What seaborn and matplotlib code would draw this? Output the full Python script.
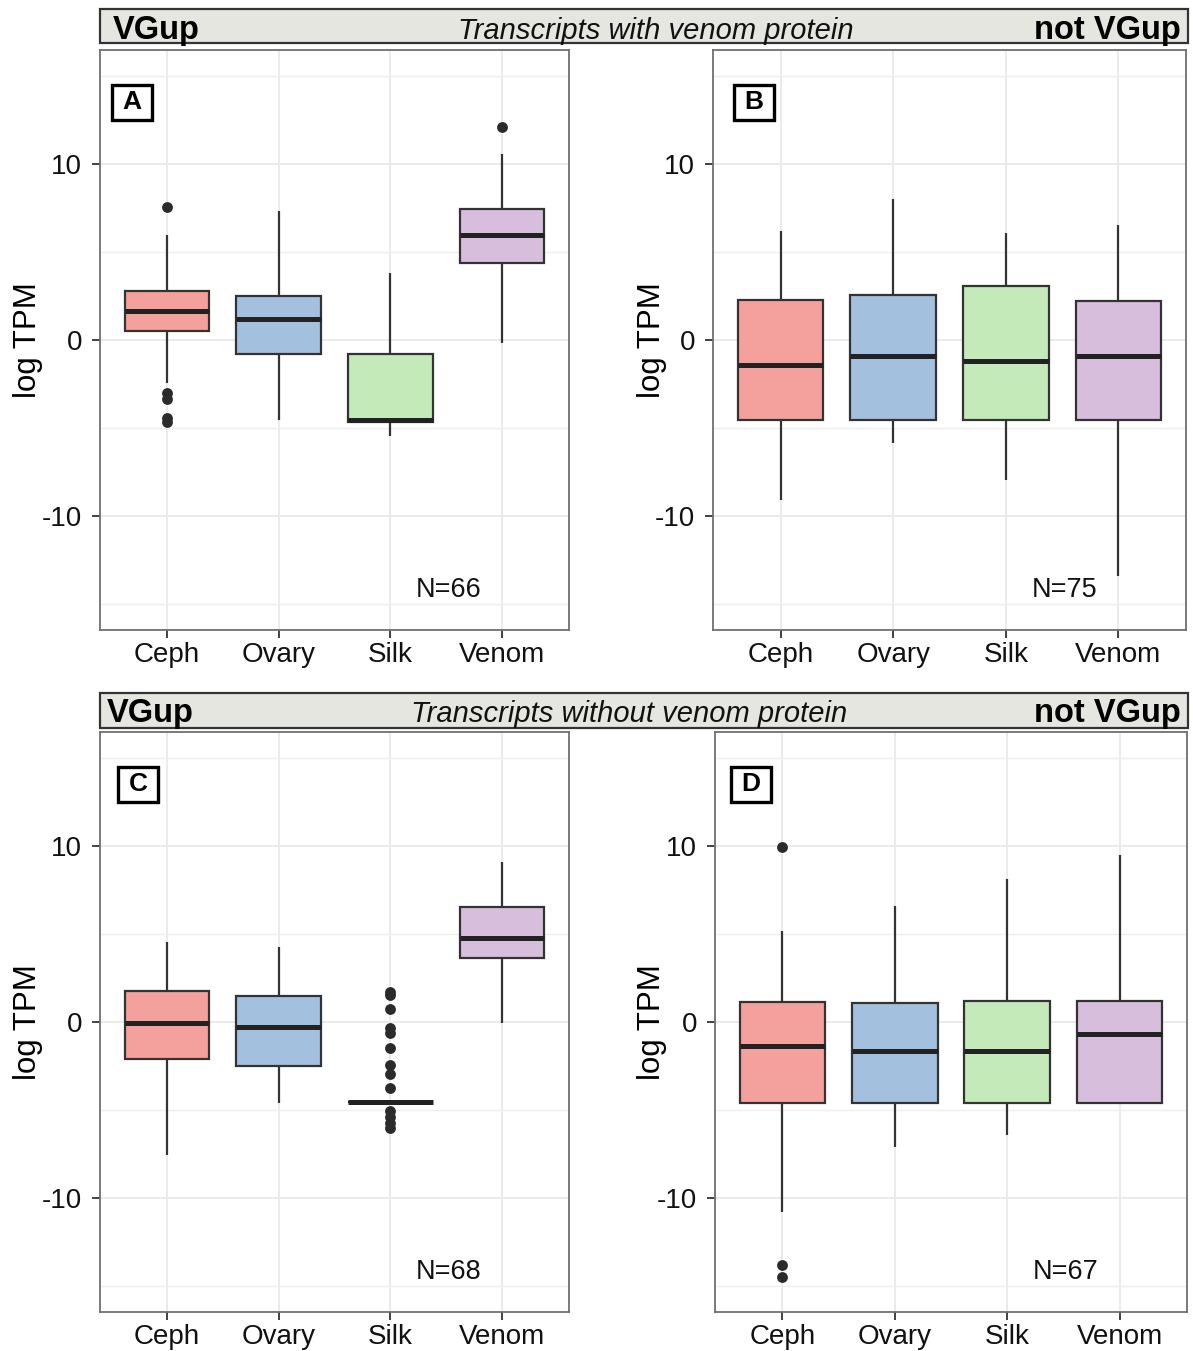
import matplotlib
matplotlib.use("Agg")
import matplotlib.pyplot as plt
from matplotlib.patches import Rectangle
import seaborn as sns
import pandas as pd

# ---------------- data ----------------
tissues = ["Ceph", "Ovary", "Silk", "Venom"]
colors = ["#F4A09C", "#A3C1DE", "#C4EABA", "#D7BEDD"]

# box summaries per tissue: [lower whisker, Q1, median, Q3, upper whisker]
box_A = [[-2.46, 0.53, 1.65, 2.78, 6.00],
         [-4.55, -0.80, 1.17, 2.50, 7.35],
         [-5.49, -4.64, -4.58, -0.80, 3.83],
         [-0.15, 4.39, 5.95, 7.48, 10.57]]
box_B = [[-9.13, -4.58, -1.42, 2.27, 6.21],
         [-5.87, -4.58, -0.91, 2.57, 8.01],
         [-7.95, -4.58, -1.19, 3.09, 6.06],
         [-13.40, -4.58, -0.91, 2.23, 6.57]]
box_C = [[-7.56, -2.12, -0.08, 1.78, 4.53],
         [-4.62, -2.48, -0.30, 1.48, 4.28],
         [-4.55, -4.55, -4.55, -4.55, -4.55],
         [-0.08, 3.65, 4.79, 6.55, 9.11]]
box_D = [[-10.83, -4.62, -1.35, 1.15, 5.19],
         [-7.12, -4.62, -1.65, 1.06, 6.61],
         [-6.42, -4.62, -1.65, 1.21, 8.16],
         [-4.62, -4.62, -0.68, 1.21, 9.53]]

# outliers: (tissue, value)
fliers_A = [("Ceph", 7.57), ("Ceph", -2.99), ("Ceph", -3.37), ("Ceph", -4.45),
            ("Ceph", -4.64), ("Venom", 12.12)]
fliers_B = []
fliers_C = [("Silk", 1.72), ("Silk", 1.53), ("Silk", 0.72), ("Silk", -0.36),
            ("Silk", -0.61), ("Silk", -1.46), ("Silk", -2.45), ("Silk", -2.95),
            ("Silk", -3.77), ("Silk", -5.09), ("Silk", -5.38), ("Silk", -5.76),
            ("Silk", -6.04)]
fliers_D = [("Ceph", 9.96), ("Ceph", -13.84), ("Ceph", -14.51)]

n_labels = ["N=66", "N=75", "N=68", "N=67"]
panel_letters = ["A", "B", "C", "D"]
y_ticks = [-10, 0, 10]
y_ticklabels = ["-10", "0", "10"]
y_minor = [-15, -5, 5, 15]

header_left = "VGup"
header_right = "not VGup"
header_mid = ["Transcripts with venom protein", "Transcripts without venom protein"]

# ---------------- style ----------------
sns.set_style("white")
plt.rcParams["font.family"] = ["Liberation Sans", "DejaVu Sans"]
plt.rcParams["axes.unicode_minus"] = False
plt.rcParams["text.color"] = "black"

W, H = 1193, 1351
fig = plt.figure(figsize=(W / 100, H / 100), dpi=100)


def fx(x):
    return x / W


def fy(y):
    return 1 - y / H


# axes rectangles in pixels: left, top, right, bottom
rects = [(100, 50, 569, 630), (713, 50, 1186, 630),
         (100, 732, 569, 1312), (715, 732, 1187, 1312)]
label_centers = [(0.068, 0.9095), (0.087, 0.9095), (0.081, 0.9095), (0.076, 0.9095)]
ylabel_x = [-0.121, -0.097, -0.121, -0.101]

boxes = [box_A, box_B, box_C, box_D]
fliers = [fliers_A, fliers_B, fliers_C, fliers_D]

for i, (l, t, r, b) in enumerate(rects):
    ax = fig.add_axes([fx(l), fy(b), (r - l) / W, (b - t) / H])
    rows = []
    for tis, vals in zip(tissues, boxes[i]):
        for v in vals:
            rows.append({"tissue": tis, "value": v})
    df = pd.DataFrame(rows)
    sns.boxplot(data=df, x="tissue", y="value", hue="tissue", order=tissues,
                hue_order=tissues, palette=colors, saturation=1,
                whis=(0, 100), width=0.76, linewidth=1.6, linecolor="#333333",
                showfliers=False, showcaps=False, legend=False, ax=ax,
                medianprops=dict(linewidth=3.6, color="#222222"),
                boxprops=dict(edgecolor="#333333"))
    if fliers[i]:
        fdf = pd.DataFrame(fliers[i], columns=["tissue", "value"])
        sns.stripplot(data=fdf, x="tissue", y="value", order=tissues,
                      jitter=False, color="#2b2b2b", size=7.8, linewidth=0,
                      ax=ax, zorder=5)

    ax.set_xlim(-0.6, 3.6)
    ax.set_ylim(-16.5, 16.5)
    ax.set_yticks(y_ticks)
    ax.set_yticklabels(y_ticklabels)
    ax.set_yticks(y_minor, minor=True)
    ax.set_axisbelow(True)
    ax.grid(True, which="major", axis="both", color="#EBEBEB", linewidth=1.4)
    ax.grid(True, which="minor", axis="y", color="#EFEFEF", linewidth=1.0)
    ax.tick_params(axis="both", which="major", direction="out", length=6,
                   width=1.3, color="#333333", labelsize=20,
                   labelcolor="#111111")
    ax.tick_params(axis="y", which="major", pad=7)
    ax.tick_params(axis="x", which="major", pad=3)
    ax.tick_params(axis="y", which="minor", length=0)
    ax.tick_params(left=True, bottom=True)
    for s in ax.spines.values():
        s.set_visible(True)
        s.set_color("#707070")
        s.set_linewidth(1.3)
    ax.set_xlabel("")
    ax.set_ylabel("log TPM", fontsize=22.5, color="black")
    ax.yaxis.set_label_coords(ylabel_x[i], 0.5)

    ax.text(2.52, -14.2, n_labels[i], fontsize=19.5, ha="center", va="center",
            color="#111111")

    cx, cy = label_centers[i]
    bw, bh = 40 / (r - l), 35 / (b - t)
    ax.add_patch(Rectangle((cx - bw / 2, cy - bh / 2), bw, bh,
                           transform=ax.transAxes, facecolor="white",
                           edgecolor="black", linewidth=2.4, zorder=6))
    ax.text(cx, cy, panel_letters[i], transform=ax.transAxes, fontsize=19,
            fontweight="bold", ha="center", va="center", zorder=7,
            color="black")

# ---------------- header strips ----------------
strips = [(9, 43, 113, 656, 39), (693, 728, 107, 629, 722)]
for j, (t, b, lx, mx, base) in enumerate(strips):
    fig.patches.append(Rectangle((fx(100), fy(b)), (1188 - 100) / W, (b - t) / H,
                                 transform=fig.transFigure, facecolor="#E6E6E1",
                                 edgecolor="#333333", linewidth=1.6, zorder=0))
    fig.text(fx(lx), fy(base), header_left, fontsize=23.5, fontweight="bold",
             ha="left", va="baseline", color="black")
    fig.text(fx(mx), fy(base), header_mid[j], fontsize=21, style="italic",
             ha="center", va="baseline", color="#111111")
    fig.text(fx(1181), fy(base), header_right, fontsize=23.5, fontweight="bold",
             ha="right", va="baseline", color="black")

fig.savefig("out.png", dpi=100)
